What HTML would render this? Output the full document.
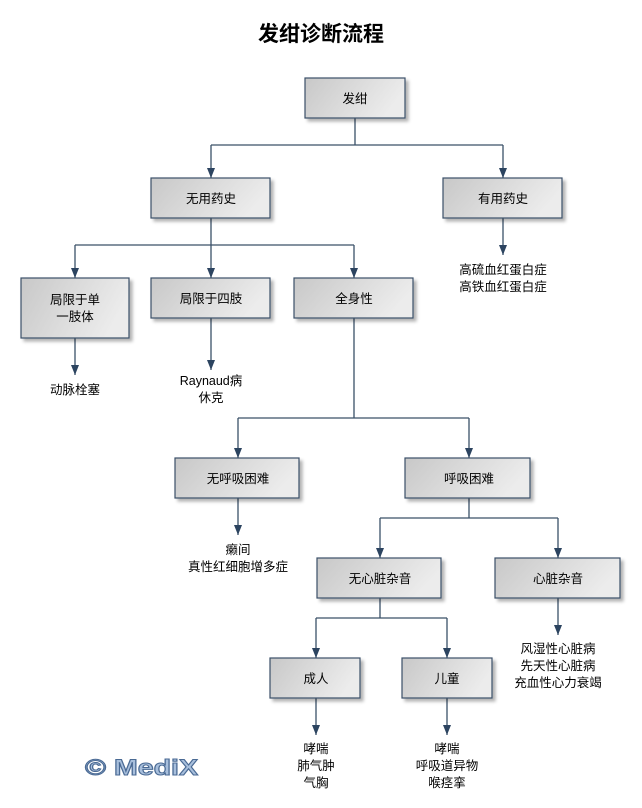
<!DOCTYPE html>
<html><head><meta charset="utf-8"><style>
body{margin:0;background:#fff;}
svg text{font-family:"Liberation Sans","Noto Sans CJK SC",sans-serif;}
</style></head><body>
<svg width="642" height="803" xmlns="http://www.w3.org/2000/svg">
<defs>
<linearGradient id="g" x1="0" y1="0" x2="1" y2="0.3">
<stop offset="0" stop-color="#c8c8c8"/><stop offset="1" stop-color="#ececec"/></linearGradient>
<marker id="a" markerWidth="10" markerHeight="8" refX="10" refY="4" orient="auto" markerUnits="userSpaceOnUse">
<path d="M0,0 L10,4 L0,8 Z" fill="#2c4460"/></marker>
<filter id="s" x="-10%" y="-10%" width="130%" height="140%"><feDropShadow dx="3" dy="3" stdDeviation="1.5" flood-color="#000" flood-opacity="0.3"/></filter>
</defs>
<text x="321" y="41" text-anchor="middle" font-size="21" font-weight="bold" fill="#000">发绀诊断流程</text>
<g stroke="#3a5068" stroke-width="1.3" fill="none">
<path d="M355,118 V145 M211,145 H503"/>
<path d="M211,145 V178" marker-end="url(#a)"/><path d="M503,145 V178" marker-end="url(#a)"/>
<path d="M211,218 V245 M75,245 H354"/>
<path d="M75,245 V278" marker-end="url(#a)"/><path d="M211,245 V278" marker-end="url(#a)"/><path d="M354,245 V278" marker-end="url(#a)"/>
<path d="M503,218 V255" marker-end="url(#a)"/>
<path d="M75,338 V375" marker-end="url(#a)"/>
<path d="M211,318 V370" marker-end="url(#a)"/>
<path d="M354,318 V418 M238,418 H469"/>
<path d="M238,418 V458" marker-end="url(#a)"/><path d="M469,418 V458" marker-end="url(#a)"/>
<path d="M238,498 V535" marker-end="url(#a)"/>
<path d="M469,498 V518 M380,518 H558"/>
<path d="M380,518 V558" marker-end="url(#a)"/><path d="M558,518 V558" marker-end="url(#a)"/>
<path d="M558,598 V635" marker-end="url(#a)"/>
<path d="M380,598 V618 M316,618 H447"/>
<path d="M316,618 V658" marker-end="url(#a)"/><path d="M447,618 V658" marker-end="url(#a)"/>
<path d="M316,698 V735" marker-end="url(#a)"/><path d="M447,698 V735" marker-end="url(#a)"/>
</g>
<g fill="url(#g)" stroke="#3a5068" stroke-width="1.2" filter="url(#s)">
<rect x="305" y="78" width="100" height="40"/>
<rect x="151" y="178" width="119" height="40"/>
<rect x="443" y="178" width="119" height="40"/>
<rect x="21" y="278" width="108" height="60"/>
<rect x="151" y="278" width="119" height="40"/>
<rect x="294" y="278" width="119" height="40"/>
<rect x="175" y="458" width="124" height="40"/>
<rect x="405" y="458" width="125" height="40"/>
<rect x="317" y="558" width="124" height="40"/>
<rect x="495" y="558" width="125" height="40"/>
<rect x="270" y="658" width="90" height="40"/>
<rect x="402" y="658" width="90" height="40"/>
</g>
<g font-size="12.5" text-anchor="middle" fill="#000">
<text x="355" y="103">发绀</text>
<text x="211" y="203">无用药史</text>
<text x="503" y="203">有用药史</text>
<text x="75" y="304">局限于单</text><text x="75" y="321">一肢体</text>
<text x="211" y="303">局限于四肢</text>
<text x="354" y="303">全身性</text>
<text x="238" y="483">无呼吸困难</text>
<text x="469" y="483">呼吸困难</text>
<text x="380" y="583">无心脏杂音</text>
<text x="558" y="583">心脏杂音</text>
<text x="316" y="683">成人</text>
<text x="447" y="683">儿童</text>
<text x="503" y="274">高硫血红蛋白症</text><text x="503" y="291">高铁血红蛋白症</text>
<text x="75" y="394">动脉栓塞</text>
<text x="211" y="385">Raynaud病</text><text x="211" y="402">休克</text>
<text x="238" y="554">癞间</text><text x="238" y="571">真性红细胞增多症</text>
<text x="558" y="653">风湿性心脏病</text><text x="558" y="670">先天性心脏病</text><text x="558" y="687">充血性心力衰竭</text>
<text x="316" y="753">哮喘</text><text x="316" y="770">肺气肿</text><text x="316" y="787">气胸</text>
<text x="447" y="753">哮喘</text><text x="447" y="770">呼吸道异物</text><text x="447" y="787">喉痉挛</text>
</g>
<text x="85" y="775" font-size="22" font-weight="bold" fill="#a8bfdc" stroke="#4a6a94" stroke-width="1" textLength="113" lengthAdjust="spacingAndGlyphs">© MediX</text>
</svg>
</body></html>
